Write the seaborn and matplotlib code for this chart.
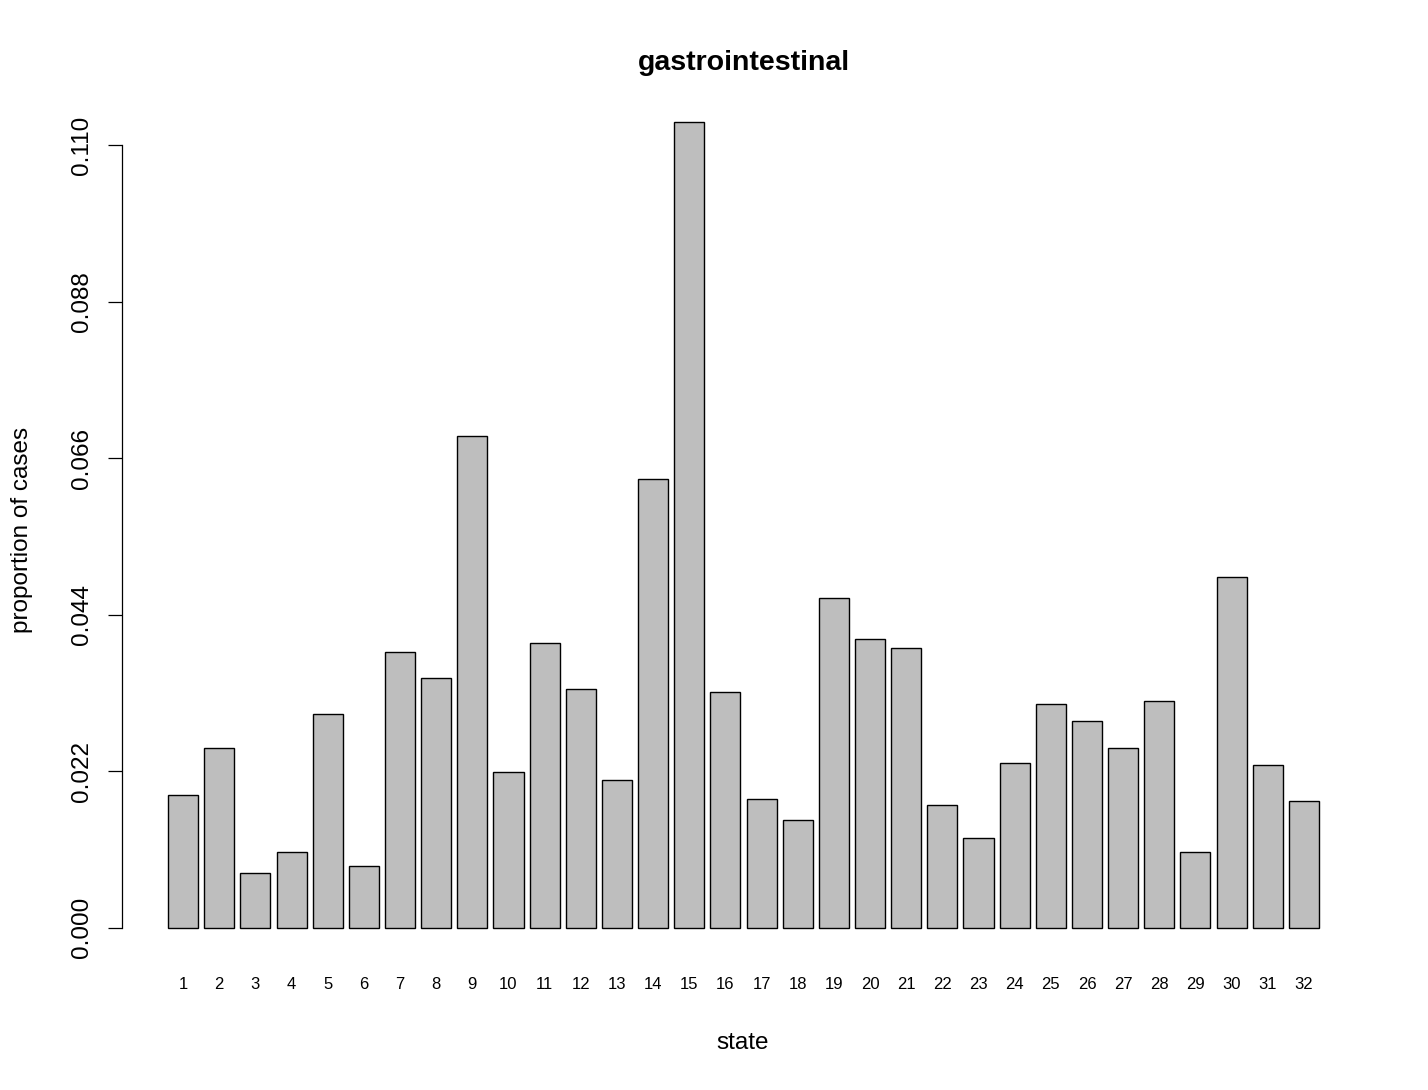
import matplotlib
matplotlib.use("Agg")
import matplotlib.pyplot as plt
import seaborn as sns
import pandas as pd

states = [str(i) for i in range(1, 33)]
proportions = [0.0187, 0.0253, 0.0077, 0.0107, 0.0301, 0.0087, 0.0388, 0.0351,
               0.0691, 0.0219, 0.0400, 0.0336, 0.0208, 0.0631, 0.1132, 0.0332,
               0.0181, 0.0152, 0.0464, 0.0406, 0.0393, 0.0173, 0.0126, 0.0232,
               0.0315, 0.0291, 0.0253, 0.0318, 0.0107, 0.0493, 0.0229, 0.0178]
yticks = [0.000, 0.022, 0.044, 0.066, 0.088, 0.110]
ytick_labels = ["0.000", "0.022", "0.044", "0.066", "0.088", "0.110"]

df = pd.DataFrame({"state": states, "proportion": proportions})

sns.set_style("white")
plt.rcParams['font.family'] = ['Liberation Sans', 'DejaVu Sans']
plt.rcParams['text.color'] = 'black'
plt.rcParams['xtick.color'] = 'black'
plt.rcParams['ytick.color'] = 'black'
plt.rcParams['axes.labelcolor'] = 'black'

fig = plt.figure(figsize=(14.28, 10.9), dpi=100)
W, H = 1428, 1090
ax = fig.add_axes([122 / W, 1 - 960 / H, (1365 - 122) / W, (960 - 90) / H])

sns.barplot(data=df, x="state", y="proportion", order=states, color="#BEBEBE",
            saturation=1, edgecolor="black", linewidth=1.0, width=1 / 1.2, ax=ax)

ax.set_xlim(-1.69, 32.69)
ymax = max(proportions)
ax.set_ylim(-0.04 * ymax, 1.04 * ymax)

for s in ["top", "right", "bottom"]:
    ax.spines[s].set_visible(False)
ax.spines["left"].set_bounds(0, 0.110)
ax.spines["left"].set_linewidth(0.9)
ax.spines["left"].set_color("black")

ax.set_yticks(yticks)
ax.set_yticklabels(ytick_labels, rotation=90, va="center")
ax.tick_params(axis="y", length=10, width=0.9, pad=11, labelsize=17.5, left=True,
               color="black", labelcolor="black")
ax.tick_params(axis="x", length=0, pad=12, labelsize=12, labelcolor="black")
ax.set_xlabel("")
ax.set_ylabel("")
ax.grid(False)

fig.text(744 / W, 1 - 63 / H, "gastrointestinal", ha="center", va="center",
         fontsize=20.5, fontweight="bold", color="black")
fig.text(743 / W, 1 - 1043 / H, "state", ha="center", va="center", fontsize=17.5,
         color="black")
fig.text(22 / W, 1 - 530 / H, "proportion of cases", ha="center", va="center",
         rotation=90, fontsize=17.5, color="black")

fig.savefig("out.png", dpi=100, facecolor="white")
